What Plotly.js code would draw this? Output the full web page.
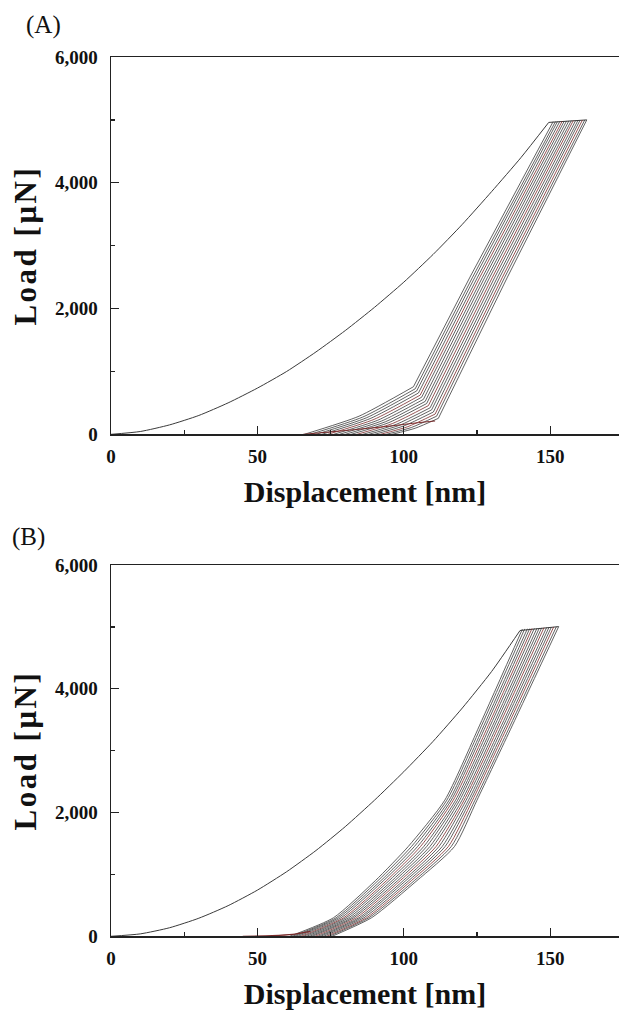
<!DOCTYPE html>
<html>
<head>
<meta charset="utf-8">
<script src="https://cdn.plot.ly/plotly-3.0.1.min.js"></script>
<style>
html,body{margin:0;padding:0;background:#fff;}
#chart{width:619px;height:1011px;}
#chart .g-ytitle text, #chart .g-y2title text { letter-spacing: 2.5px; }
</style>
</head>
<body>
<div id="chart"></div>
<script>
// ---------- Panel (A) ----------
const A_loadX = [0, 10, 20, 30, 40, 50, 60, 70, 80, 90, 100, 110, 120, 130, 140, 149.5];
const A_loadY = [0, 45, 150, 300, 500, 735, 1000, 1310, 1650, 2020, 2420, 2860, 3340, 3860, 4400, 4960];
const A_holdX = [149.5, 162.5];
const A_holdY = [4960, 5000];
// each cycle: start on baseline -> tail point -> knee -> mid steep point (2,500 µN) -> peak
const A_startX = [66, 68, 70, 72, 74, 76, 78, 80, 82, 84, 86, 88, 90, 92, 94, 96];
const A_tailX  = [84.7, 86.0, 87.2, 88.5, 89.8, 91.1, 92.4, 93.7, 94.9, 96.2, 97.5, 98.8, 100.1, 101.4, 102.6, 103.9];
const A_tailY  = [288, 275, 262, 250, 237, 224, 211, 199, 186, 173, 160, 148, 135, 122, 109, 97];
const A_kneeX  = [103.3, 103.9, 104.4, 105.0, 105.6, 106.1, 106.7, 107.3, 107.8, 108.4, 109.0, 109.5, 110.1, 110.7, 111.2, 111.8];
const A_kneeY  = [757, 724, 690, 657, 623, 590, 556, 523, 489, 456, 422, 389, 355, 322, 288, 254];
const A_midX   = [122.6, 123.5, 124.3, 125.2, 126.0, 126.9, 127.7, 128.6, 129.4, 130.3, 131.1, 132.0, 132.8, 133.7, 134.5, 135.4];
const A_midY   = 2500;
const A_peakX  = [151.0, 151.8, 152.5, 153.3, 154.1, 154.8, 155.6, 156.4, 157.2, 157.9, 158.7, 159.5, 160.2, 161.0, 161.8, 162.5];
const A_peakY  = [4972, 4974, 4976, 4978, 4980, 4982, 4984, 4986, 4988, 4990, 4992, 4994, 4995, 4997, 4998, 5000];
const A_redX = [65.6, 80, 95, 105, 110.7];
const A_redY = [0, 60, 130, 185, 212];

// ---------- Panel (B) ----------
const B_loadX = [0, 10, 20, 30, 40, 50, 60, 70, 80, 90, 100, 110, 120, 130, 139.7];
const B_loadY = [0, 39, 138, 292, 495, 746, 1044, 1386, 1772, 2200, 2660, 3150, 3690, 4280, 4942];
const B_holdX = [139.7, 152.9];
const B_holdY = [4942, 5005];
// each cycle: displacement read at the load levels below, then the peak
const B_levels = [0, 300, 900, 1450, 2200, 3400];
const B_x0    = [61.0, 62.0, 62.9, 63.9, 64.9, 65.8, 66.8, 67.8, 68.7, 69.7, 70.7, 71.6, 72.6, 73.6, 74.5, 75.5];
const B_x300  = [76.0, 76.9, 77.7, 78.6, 79.5, 80.3, 81.2, 82.1, 82.9, 83.8, 84.7, 85.5, 86.4, 87.3, 88.1, 89.0];
const B_x900  = [90.3, 91.2, 92.2, 93.1, 94.1, 95.0, 96.0, 96.9, 97.9, 98.8, 99.8, 100.7, 101.7, 102.6, 103.6, 104.5];
const B_x1450 = [101.5, 102.6, 103.6, 104.7, 105.7, 106.8, 107.8, 108.9, 109.9, 111.0, 112.0, 113.1, 114.1, 115.2, 116.2, 117.3];
const B_x2200 = [114.0, 114.7, 115.5, 116.2, 116.9, 117.7, 118.4, 119.1, 119.9, 120.6, 121.3, 122.1, 122.8, 123.5, 124.3, 125.0];
const B_x3400 = [125.8, 126.5, 127.3, 128.0, 128.8, 129.5, 130.3, 131.0, 131.8, 132.5, 133.3, 134.0, 134.8, 135.5, 136.3, 137.0];
const B_peakX = [140.5, 141.3, 142.2, 143.0, 143.8, 144.6, 145.5, 146.3, 147.1, 147.9, 148.8, 149.6, 150.4, 151.2, 152.1, 152.9];
const B_peakY = [4965, 4968, 4970, 4973, 4976, 4978, 4981, 4984, 4986, 4989, 4992, 4994, 4997, 5000, 5002, 5005];
const B_redX = [45, 55, 62, 68];
const B_redY = [0, 10, 30, 80];

// ---------- Axis labels ----------
const xTickVals = [0, 50, 100, 150];
const xTickText = ['0', '50', '100', '150'];
const xMinor = [25, 75, 125, 175];
const yTickVals = [0, 2000, 4000, 6000];
const yTickText = ['0', '2,000', '4,000', '6,000'];
const yMinor = [1000, 3000, 5000];
const xTitle = 'Displacement [nm]';
const yTitle = 'Load [μN]';
const panelLabels = ['(A)', '(B)'];

const GRAY = '#3a3a3a';
const RED = '#7a2a2a';
const redCycles = [4, 9, 13];

const traces = [];
function line(x, y, xa, ya, color, w, shape) {
  traces.push({x: x, y: y, xaxis: xa, yaxis: ya, type: 'scatter', mode: 'lines',
    line: {color: color, width: w, shape: shape || 'linear', smoothing: 0.6},
    hoverinfo: 'skip', showlegend: false});
}
// Panel A
line(A_loadX, A_loadY, 'x', 'y', GRAY, 1, 'spline');
line(A_holdX, A_holdY, 'x', 'y', GRAY, 1);
for (let i = 0; i < A_startX.length; i++) {
  const c = redCycles.includes(i) ? RED : GRAY;
  line([A_startX[i], A_tailX[i], A_kneeX[i]], [0, A_tailY[i], A_kneeY[i]], 'x', 'y', c, 0.8, 'spline');
  line([A_kneeX[i], A_midX[i], A_peakX[i]], [A_kneeY[i], A_midY, A_peakY[i]], 'x', 'y', c, 0.8);
}
line(A_redX, A_redY, 'x', 'y', RED, 1, 'spline');
// Panel B
line(B_loadX, B_loadY, 'x2', 'y2', GRAY, 1, 'spline');
line(B_holdX, B_holdY, 'x2', 'y2', GRAY, 1);
for (let i = 0; i < B_x0.length; i++) {
  const c = redCycles.includes(i) ? RED : GRAY;
  line([B_x0[i], B_x300[i], B_x900[i], B_x1450[i], B_x2200[i], B_x3400[i], B_peakX[i]],
       B_levels.concat([B_peakY[i]]), 'x2', 'y2', c, 0.8, 'spline');
}
line(B_redX, B_redY, 'x2', 'y2', RED, 1.2, 'spline');

const SERIF = 'Liberation Serif, Times New Roman, serif';
function xAxis(anchor) {
  return {
    anchor: anchor, domain: [0, 1], range: [0, 173.5],
    showline: true, linecolor: '#222', linewidth: 1.5, mirror: true,
    showgrid: false, zeroline: false,
    ticks: 'inside', ticklen: 8, tickwidth: 1.3, tickcolor: '#222',
    tickvals: xTickVals, ticktext: xTickText,
    minor: {ticks: 'inside', ticklen: 4, tickwidth: 1.2, tickcolor: '#222', tickvals: xMinor, showgrid: false},
    tickfont: {family: SERIF, size: 19, color: '#111', weight: 'bold'},
    ticklabelstandoff: 4,
    title: {text: xTitle, font: {family: SERIF, size: 30, color: '#111', weight: 'bold'}, standoff: 15},
    automargin: false, fixedrange: true
  };
}
function yAxis(anchor, domain) {
  return {
    anchor: anchor, domain: domain, range: [0, 6000],
    showline: true, linecolor: '#222', linewidth: 1.5,
    showgrid: false, zeroline: false,
    ticks: 'inside', ticklen: 8, tickwidth: 1.3, tickcolor: '#222',
    tickvals: yTickVals, ticktext: yTickText,
    minor: {ticks: 'inside', ticklen: 4, tickwidth: 1.2, tickcolor: '#222', tickvals: yMinor, showgrid: false},
    tickfont: {family: SERIF, size: 19, color: '#111', weight: 'bold'},
    ticklabelstandoff: 8,
    title: {text: yTitle, font: {family: SERIF, size: 31, color: '#111', weight: 'bold'}, standoff: 9},
    automargin: false, fixedrange: true
  };
}

const layout = {
  width: 619, height: 1011,
  margin: {l: 111, r: 0, t: 0, b: 0},
  paper_bgcolor: '#fff', plot_bgcolor: '#fff',
  showlegend: false,
  xaxis: xAxis('y'),
  yaxis: yAxis('x', [0.5704, 0.9436]),
  xaxis2: xAxis('y2'),
  yaxis2: yAxis('x2', [0.0739, 0.4411]),
  annotations: [
    {text: panelLabels[0], xref: 'paper', yref: 'paper', x: -0.133, y: 0.975, xanchor: 'center', yanchor: 'middle',
     showarrow: false, font: {family: SERIF, size: 25, color: '#111'}},
    {text: panelLabels[1], xref: 'paper', yref: 'paper', x: -0.163, y: 0.469, xanchor: 'center', yanchor: 'middle',
     showarrow: false, font: {family: SERIF, size: 25, color: '#111'}}
  ]
};

Plotly.newPlot('chart', traces, layout, {staticPlot: true, displayModeBar: false});
</script>
</body>
</html>
